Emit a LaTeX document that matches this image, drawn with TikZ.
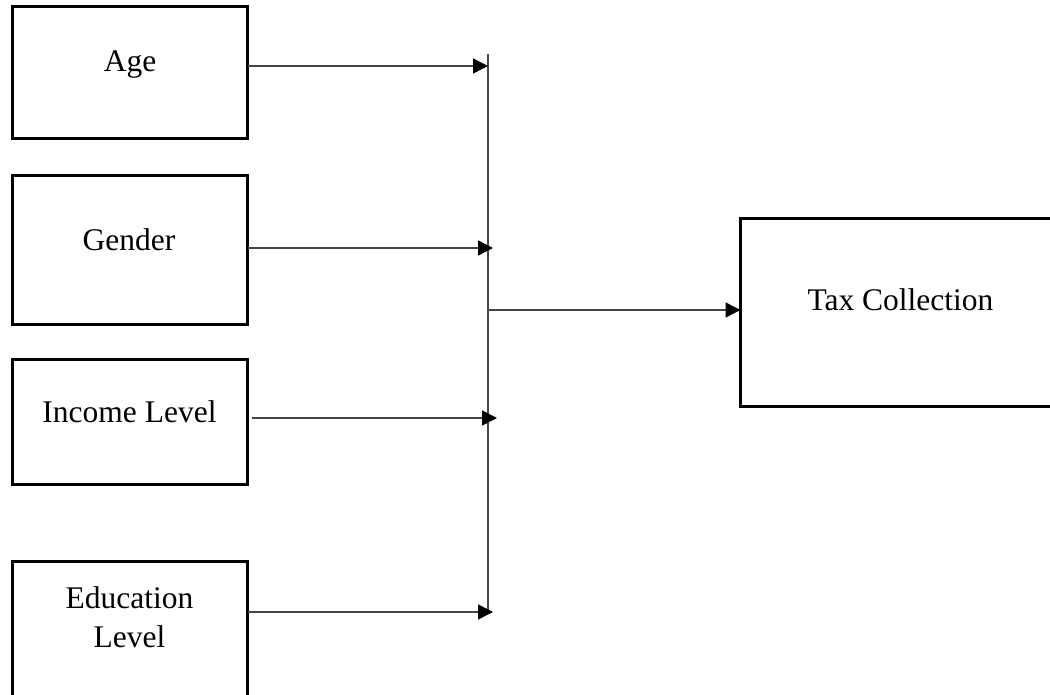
\documentclass[tikz,border=0pt]{standalone}
\usepackage{fontspec}
\setmainfont{Liberation Serif}
\usetikzlibrary{arrows.meta}
\definecolor{conn}{RGB}{70,70,70}
\begin{document}
\begin{tikzpicture}[x=1pt,y=-1pt,
  box/.style={draw=black,line width=3pt,inner sep=0pt,outer sep=0pt,rectangle},
  lbl/.style={font=\fontsize{31.5}{39}\selectfont,inner sep=0pt,anchor=base,align=center},
  conline/.style={draw=conn,line width=1.5pt},
  arr/.style={conline,-{Triangle[length=15pt,width=15pt,color=black]}}]
\useasboundingbox (0,0) rectangle (1050,695);
\clip (0,0) rectangle (1050,695);
% boxes
\node[box,minimum width=235pt,minimum height=132pt] (age) at (130,72.5) {};
\node[box,minimum width=235pt,minimum height=148.5pt] (gender) at (130,250.25) {};
\node[box,minimum width=235pt,minimum height=125pt] (income) at (130,422) {};
\node[box,minimum width=235pt,minimum height=200pt] (edu) at (130,661.5) {};
\node[box,minimum width=360pt,minimum height=187pt] (tax) at (920.5,312.5) {};
% labels
\node[lbl] (ageL) at (130,72) {Age};
\node[lbl] (genderL) at (129,251) {Gender};
\node[lbl] (incomeL) at (129.5,422) {Income Level};
\node[lbl] (eduL) at (129.5,647) {Education\\Level};
\node[lbl] (taxL) at (900.5,310) {Tax Collection};
% bus
\coordinate (busTop) at (488,54);
\coordinate (busBot) at (488,612);
\draw[conline] (busTop) -- (busBot);
\coordinate (tA) at (488,66);
\coordinate (tG) at (493,248);
\coordinate (tI) at (497,418);
\coordinate (tE) at (493,612);
\coordinate (bT) at (488,310);
\draw[arr] (age.east |- tA) -- (tA);
\draw[arr] (gender.east |- tG) -- (tG);
\draw[arr] ([xshift=4pt]income.east |- tI) -- (tI);
\draw[arr] (edu.east |- tE) -- (tE);
\draw[arr] (bT) -- (tax.west |- bT);
\end{tikzpicture}
\end{document}
